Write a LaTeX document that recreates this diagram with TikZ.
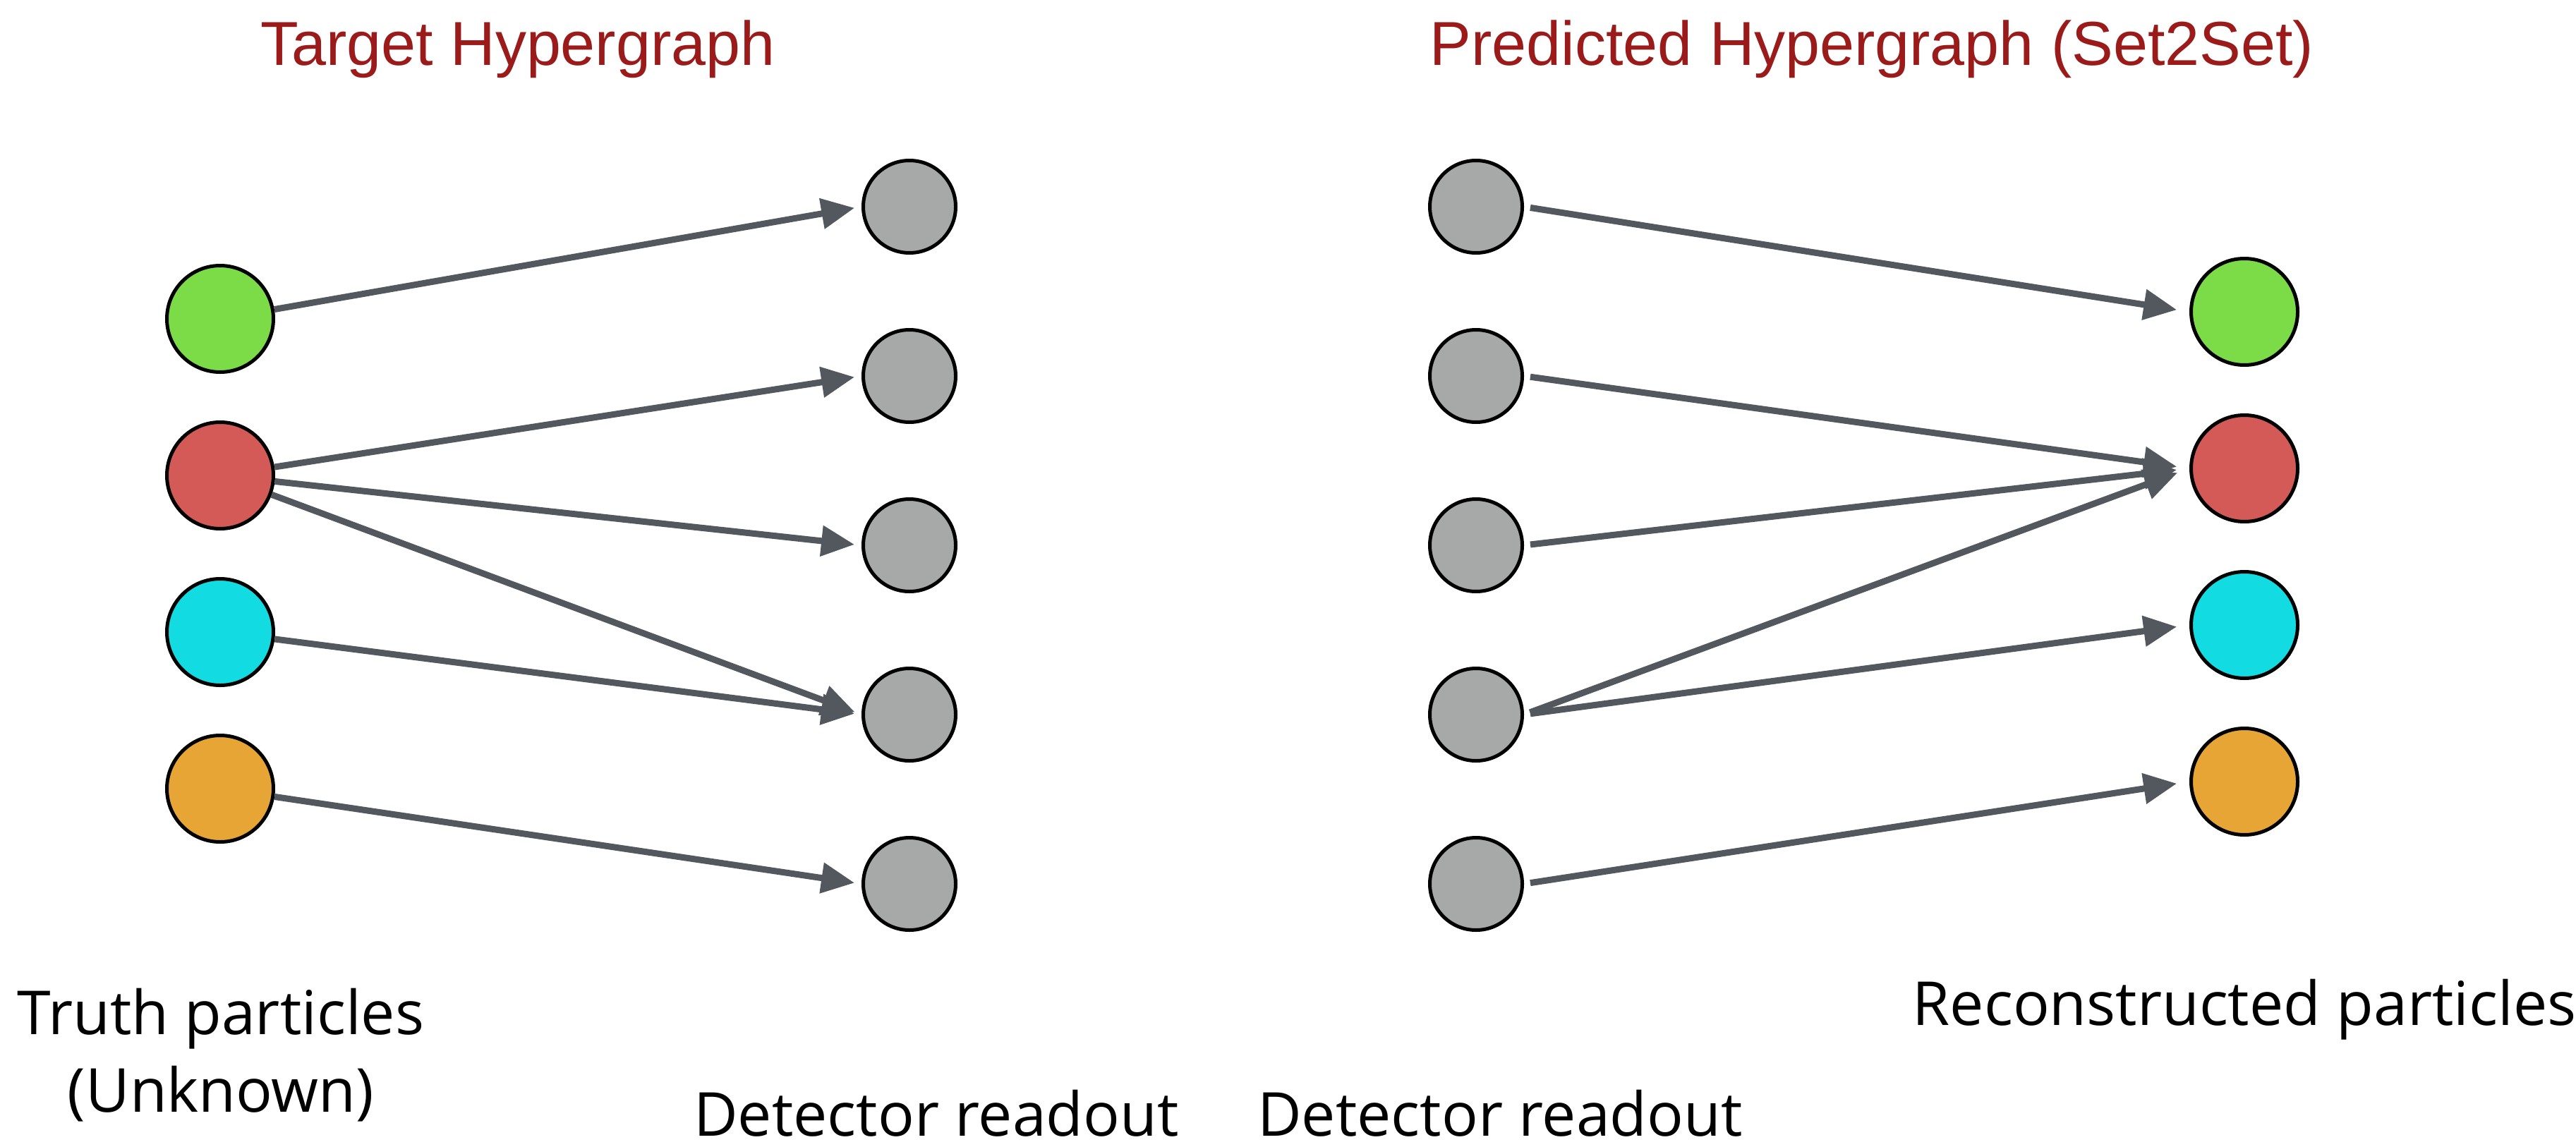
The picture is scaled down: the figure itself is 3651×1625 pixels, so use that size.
\documentclass[tikz,border=0pt]{standalone}
\usepackage{fontspec}
\setmainfont{Open Sans}
\newfontfamily\headfont{Liberation Sans}
\usetikzlibrary{arrows.meta}

\definecolor{headred}{HTML}{9B1B1B}
\definecolor{pgreen}{HTML}{7BDC48}
\definecolor{pred}{HTML}{D45A58}
\definecolor{pcyan}{HTML}{12DCE2}
\definecolor{porange}{HTML}{E6A535}
\definecolor{hitgray}{HTML}{A6A9A7}
\definecolor{edgegray}{HTML}{53575E}

\tikzset{
  particle/.style={circle, draw=black, line width=5pt, inner sep=0pt, minimum size=151pt},
  hit/.style={circle, draw=black, line width=5pt, fill=hitgray, inner sep=0pt, minimum size=131pt},
  link/.style={draw=edgegray, line width=9pt,
    -{Triangle[length=47pt,width=42pt]}, shorten >=10pt},
  linkr/.style={link, shorten <=9pt, shorten >=18pt},
  headlabel/.style={anchor=base, text=headred, font=\headfont\fontsize{88}{100}\selectfont, inner sep=0pt},
  caption/.style={anchor=base, text=black, font=\fontsize{86}{100}\selectfont, inner sep=0pt},
}

\begin{document}
\begin{tikzpicture}[x=1pt, y=-1pt]
  \useasboundingbox (0,0) rectangle (3651,1625);

  % titles
  \node[headlabel] (ttarget) at (734,92) {Target Hypergraph};
  \node[headlabel] (tpred) at (2653,92) {Predicted Hypergraph (Set2Set)};

  % truth particles
  \node[particle, fill=pgreen]  (tp1) at (312,452) {};
  \node[particle, fill=pred]    (tp2) at (312,674) {};
  \node[particle, fill=pcyan]   (tp3) at (312,896) {};
  \node[particle, fill=porange] (tp4) at (312,1118) {};

  % detector hits, target side
  \node[hit] (dl1) at (1289,293) {};
  \node[hit] (dl2) at (1289,533) {};
  \node[hit] (dl3) at (1289,773) {};
  \node[hit] (dl4) at (1289,1013) {};
  \node[hit] (dl5) at (1289,1253) {};

  % detector hits, predicted side
  \node[hit] (dr1) at (2092,293) {};
  \node[hit] (dr2) at (2092,533) {};
  \node[hit] (dr3) at (2092,773) {};
  \node[hit] (dr4) at (2092,1013) {};
  \node[hit] (dr5) at (2092,1253) {};

  % reconstructed particles
  \node[particle, fill=pgreen]  (rp1) at (3181,442) {};
  \node[particle, fill=pred]    (rp2) at (3181,664) {};
  \node[particle, fill=pcyan]   (rp3) at (3181,886) {};
  \node[particle, fill=porange] (rp4) at (3181,1108) {};

  % target hyperedges
  \draw[link] (tp1) -- (dl1.west);
  \draw[link] (tp2) -- (dl2.west);
  \draw[link] (tp2) -- (dl3.west);
  \draw[link] (tp2) -- (dl4.west);
  \draw[link] (tp3) -- (dl4.west);
  \draw[link] (tp4) -- (dl5.west);

  % predicted hyperedges
  \draw[linkr] (dr1.east) -- (rp1.west);
  \draw[linkr] (dr2.east) -- (rp2.west);
  \draw[linkr] (dr3.east) -- (rp2.west);
  \draw[linkr] (dr4.east) -- (rp2.west);
  \draw[linkr] (dr4.east) -- (rp3.west);
  \draw[linkr] (dr5.east) -- (rp4.west);

  % captions
  \node[caption] (ctruth) at (313,1466) {Truth particles};
  \node[caption] (cunk) at (313,1576) {(Unknown)};
  \node[caption] (cdet1) at (1327,1610) {Detector readout};
  \node[caption] (cdet2) at (2126,1610) {Detector readout};
  \node[caption] (creco) at (3181,1453) {Reconstructed particles};
\end{tikzpicture}
\end{document}
